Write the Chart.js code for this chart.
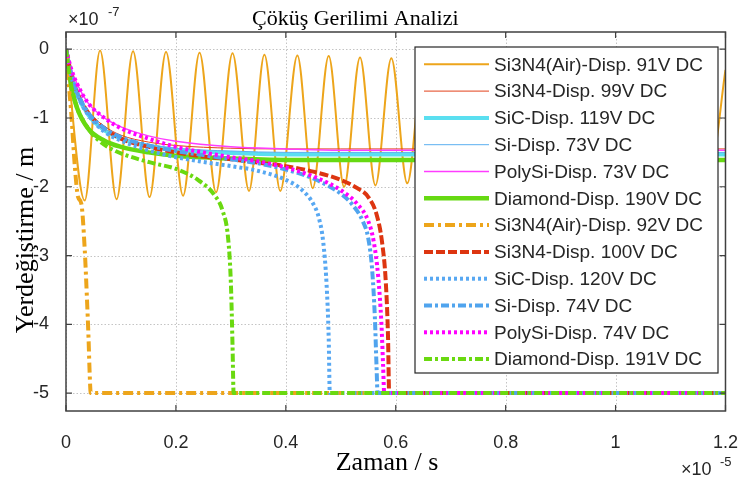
<!DOCTYPE html>
<html>
<head>
<meta charset="utf-8">
<script src="https://cdn.jsdelivr.net/npm/chart.js@4.4.1/dist/chart.umd.min.js"></script>
<style>
  html, body { margin: 0; padding: 0; background: #fff; }
  canvas { display: block; }
</style>
</head>
<body>
<canvas id="collapseChart" width="751" height="484"></canvas>
<script>
// --- veri (x: x1e-5 s, y: x1e-7 m) ---
const xTicks = [0, 0.2, 0.4, 0.6, 0.8, 1, 1.2];
const yTicks = [0, -1, -2, -3, -4, -5];

// Si3N4(Air) 91V - salinim (tepe / cukur noktalari)
const oscX = [0, 0.034, 0.062, 0.092, 0.122, 0.152, 0.182, 0.213, 0.243, 0.273, 0.303, 0.333, 0.361, 0.390, 0.421,
  0.449, 0.478, 0.506, 0.535, 0.563, 0.592, 0.621, 0.651, 0.682, 0.713, 0.744, 0.775, 0.805, 0.836, 0.867, 0.898,
  0.928, 0.959, 0.990, 1.021, 1.051, 1.082, 1.113, 1.144, 1.174, 1.2];
const oscY = [0, -2.2, -0.02, -2.18, -0.03, -2.15, -0.04, -2.13, -0.05, -2.08, -0.06, -2.06, -0.08, -2.06, -0.09,
  -2.02, -0.10, -2.00, -0.12, -1.98, -0.13, -1.95, -0.14, -1.92, -0.16, -1.89, -0.17, -1.86, -0.19, -1.83, -0.20,
  -1.79, -0.22, -1.76, -0.23, -1.73, -0.25, -1.69, -0.26, -1.65, -0.3];

// kararli egriler
const stableX = [0, 0.01, 0.02, 0.04, 0.07, 0.1, 0.15, 0.2, 0.3, 0.4, 0.5, 0.7, 1.2];
const si3n4_99 = [0, -0.35, -0.6, -0.9, -1.12, -1.25, -1.35, -1.4, -1.44, -1.45, -1.45, -1.45, -1.45];
const sic_119 = [0, -0.4, -0.65, -0.95, -1.18, -1.3, -1.41, -1.46, -1.51, -1.53, -1.53, -1.53, -1.53];
const si_73 = [0, -0.38, -0.62, -0.92, -1.15, -1.28, -1.38, -1.44, -1.48, -1.5, -1.5, -1.5, -1.5];
const polysi_73 = [0, -0.3, -0.5, -0.78, -1.0, -1.13, -1.26, -1.34, -1.42, -1.45, -1.47, -1.47, -1.47];
const diamond_190 = [0, -0.55, -0.85, -1.15, -1.33, -1.42, -1.5, -1.55, -1.59, -1.61, -1.61, -1.61, -1.61];

// cokme egrileri
const airX_92 = [0, 0.005, 0.01, 0.016, 0.022, 0.028, 0.034, 0.038, 0.041, 0.043, 0.045, 1.2];
const airY_92 = [0, -0.5, -0.98, -1.7, -2.15, -2.25, -2.9, -3.6, -4.2, -4.7, -5, -5];
const si3n4X_100 = [0, 0.01, 0.02, 0.04, 0.07, 0.1, 0.15, 0.2, 0.25, 0.3, 0.35, 0.4, 0.45, 0.5, 0.53, 0.55, 0.565, 0.575, 0.582, 0.586, 0.588, 1.2];
const si3n4Y_100 = [0, -0.38, -0.62, -0.92, -1.15, -1.3, -1.42, -1.5, -1.56, -1.6, -1.65, -1.7, -1.78, -1.9, -2.02, -2.15, -2.4, -2.8, -3.4, -4.2, -5, -5];
const sicX_120 = [0, 0.01, 0.02, 0.04, 0.07, 0.1, 0.15, 0.2, 0.25, 0.3, 0.35, 0.4, 0.43, 0.45, 0.46, 0.468, 0.474, 0.478, 0.48, 1.2];
const sicY_120 = [0, -0.4, -0.65, -0.95, -1.2, -1.33, -1.47, -1.57, -1.64, -1.7, -1.77, -1.9, -2.05, -2.25, -2.45, -2.8, -3.4, -4.2, -5, -5];
const siX_74 = [0, 0.01, 0.02, 0.04, 0.07, 0.1, 0.15, 0.2, 0.25, 0.3, 0.35, 0.4, 0.45, 0.5, 0.52, 0.54, 0.55, 0.557, 0.562, 0.565, 0.567, 1.2];
const siY_74 = [0, -0.38, -0.62, -0.92, -1.15, -1.28, -1.4, -1.48, -1.54, -1.6, -1.66, -1.75, -1.88, -2.1, -2.25, -2.5, -2.75, -3.2, -3.9, -4.6, -5, -5];
const polyX_74 = [0, 0.01, 0.02, 0.04, 0.07, 0.1, 0.15, 0.2, 0.25, 0.3, 0.35, 0.4, 0.45, 0.5, 0.53, 0.55, 0.56, 0.568, 0.574, 0.577, 0.579, 1.2];
const polyY_74 = [0, -0.3, -0.5, -0.78, -1.0, -1.15, -1.3, -1.42, -1.5, -1.57, -1.63, -1.72, -1.85, -2.05, -2.25, -2.5, -2.8, -3.3, -4.0, -4.6, -5, -5];
const diaX_191 = [0, 0.01, 0.02, 0.04, 0.06, 0.09, 0.12, 0.16, 0.2, 0.24, 0.27, 0.285, 0.295, 0.3, 0.303, 0.305, 1.2];
const diaY_191 = [0, -0.55, -0.85, -1.15, -1.33, -1.48, -1.57, -1.66, -1.74, -1.9, -2.12, -2.35, -2.75, -3.4, -4.3, -5, -5];

const labels = [
  'Si3N4(Air)-Disp. 91V DC', 'Si3N4-Disp. 99V DC', 'SiC-Disp. 119V DC', 'Si-Disp. 73V DC',
  'PolySi-Disp. 73V DC', 'Diamond-Disp. 190V DC', 'Si3N4(Air)-Disp. 92V DC', 'Si3N4-Disp. 100V DC',
  'SiC-Disp. 120V DC', 'Si-Disp. 74V DC', 'PolySi-Disp. 74V DC', 'Diamond-Disp. 191V DC'
];
const xs = [oscX, stableX, stableX, stableX, stableX, stableX, airX_92, si3n4X_100, sicX_120, siX_74, polyX_74, diaX_191];
const ys = [oscY, si3n4_99, sic_119, si_73, polysi_73, diamond_190, airY_92, si3n4Y_100, sicY_120, siY_74, polyY_74, diaY_191];

// stiller
const colors = ['#EDA51B', '#E2401A', '#5ADFF0', '#5AAFF0', '#FF3CFF', '#66D912',
                '#EDA51B', '#DD3510', '#58A8F2', '#50A4EE', '#FF00FF', '#6AD910'];
const widths = [2, 1, 4, 1, 1.5, 4.5, 4, 4, 4, 4, 4, 4];
const dashes = [[], [], [], [], [], [], [10, 4, 3, 4], [9, 3], [3, 3], [8, 3, 3, 3], [3, 3], [8, 3, 3, 3]];

const SERIF = "'Liberation Serif', 'Times New Roman', serif";
const SANS = "'Liberation Sans', Arial, sans-serif";
const INK = '#262626';

const datasets = labels.map((lab, i) => ({
  label: lab,
  data: xs[i].map((x, k) => ({ x: x, y: ys[i][k] })),
  borderColor: colors[i],
  borderWidth: widths[i],
  borderDash: dashes[i],
  pointRadius: 0,
  fill: false,
  cubicInterpolationMode: 'monotone',
  order: labels.length - 1 - i
}));

// --- noktali izgara ---
const dottedGrid = {
  id: 'dottedGrid',
  beforeDatasetsDraw(chart) {
    const { ctx, chartArea: a, scales: { x, y } } = chart;
    ctx.save();
    ctx.strokeStyle = '#c4c4c4';
    ctx.lineWidth = 1;
    ctx.setLineDash([1.5, 2]);
    ctx.beginPath();
    xTicks.forEach(v => {
      const px = Math.round(x.getPixelForValue(v)) + 0.5;
      ctx.moveTo(px, a.top); ctx.lineTo(px, a.bottom);
    });
    yTicks.forEach(v => {
      const py = Math.round(y.getPixelForValue(v)) + 0.5;
      ctx.moveTo(a.left, py); ctx.lineTo(a.right, py);
    });
    ctx.stroke();
    ctx.restore();
  }
};

// --- cizim eklentisi: kutu, ic tikler, basliklar, lejant ---
const decor = {
  id: 'decor',
  afterDraw(chart) {
    const { ctx, chartArea: a, scales: { x, y } } = chart;
    ctx.save();
    // cerceve
    ctx.strokeStyle = '#404040';
    ctx.lineWidth = 1.5;
    ctx.strokeRect(a.left, a.top, a.right - a.left, a.bottom - a.top);
    // ic tikler
    ctx.lineWidth = 1.2;
    ctx.beginPath();
    xTicks.forEach(v => {
      const px = x.getPixelForValue(v);
      ctx.moveTo(px, a.bottom); ctx.lineTo(px, a.bottom - 6);
      ctx.moveTo(px, a.top); ctx.lineTo(px, a.top + 6);
    });
    yTicks.forEach(v => {
      const py = y.getPixelForValue(v);
      ctx.moveTo(a.left, py); ctx.lineTo(a.left + 6, py);
      ctx.moveTo(a.right, py); ctx.lineTo(a.right - 6, py);
    });
    ctx.stroke();

    // baslik
    ctx.fillStyle = '#000';
    ctx.textBaseline = 'alphabetic';
    ctx.textAlign = 'left';
    ctx.font = '22px ' + SERIF;
    ctx.fillText('Çöküş Gerilimi Analizi', 252, 25);

    // eksen basliklari
    ctx.font = '26px ' + SERIF;
    ctx.textAlign = 'center';
    ctx.fillText('Zaman / s', 387, 470);
    ctx.save();
    ctx.translate(33, 240);
    ctx.rotate(-Math.PI / 2);
    ctx.fillText('Yerdeğiştirme / m', 0, 0);
    ctx.restore();

    // carpanlar
    ctx.fillStyle = INK;
    ctx.textAlign = 'left';
    ctx.font = '18px ' + SANS;
    ctx.fillText('×10', 68, 25);
    ctx.fillText('×10', 681, 475);
    ctx.font = '13px ' + SANS;
    ctx.fillText('-7', 108, 16);
    ctx.fillText('-5', 720, 466);

    // lejant
    const lx = 415, ly = 47, lw = 303, lh = 326;
    ctx.fillStyle = '#fff';
    ctx.fillRect(lx, ly, lw, lh);
    ctx.strokeStyle = INK;
    ctx.lineWidth = 1.2;
    ctx.setLineDash([]);
    ctx.strokeRect(lx, ly, lw, lh);
    ctx.font = '19px ' + SANS;
    ctx.textBaseline = 'middle';
    chart.data.datasets.forEach((ds, i) => {
      const cy = 64.3 + i * 26.8;
      ctx.strokeStyle = ds.borderColor;
      ctx.lineWidth = ds.borderWidth;
      ctx.setLineDash(ds.borderDash);
      ctx.beginPath();
      ctx.moveTo(424, cy);
      ctx.lineTo(489, cy);
      ctx.stroke();
      ctx.setLineDash([]);
      ctx.fillStyle = INK;
      ctx.fillText(ds.label, 494, cy + 1);
    });
    ctx.restore();
  }
};

new Chart(document.getElementById('collapseChart').getContext('2d'), {
  type: 'line',
  data: { datasets: datasets },
  options: {
    responsive: false,
    animation: false,
    devicePixelRatio: 1,
    layout: { padding: { top: 32, right: 16, left: 0, bottom: 0 } },
    plugins: {
      legend: { display: false },
      title: { display: false },
      tooltip: { enabled: false }
    },
    scales: {
      x: {
        type: 'linear',
        min: 0,
        max: 1.2,
        afterBuildTicks: (s) => { s.ticks = xTicks.map(v => ({ value: v })); },
        afterFit: (s) => { s.height = 73; },
        ticks: {
          font: { family: SANS, size: 18 },
          color: INK,
          padding: 13,
          maxRotation: 0,
          callback: (v) => String(v)
        },
        grid: { display: false },
        border: { display: false }
      },
      y: {
        type: 'linear',
        min: -5.26,
        max: 0.25,
        afterBuildTicks: (s) => { s.ticks = yTicks.map(v => ({ value: v })); },
        afterFit: (s) => { s.width = 66; },
        ticks: {
          font: { family: SANS, size: 18 },
          color: INK,
          padding: 9,
          callback: (v) => String(v)
        },
        grid: { display: false },
        border: { display: false }
      }
    }
  },
  plugins: [dottedGrid, decor]
});
</script>
</body>
</html>
